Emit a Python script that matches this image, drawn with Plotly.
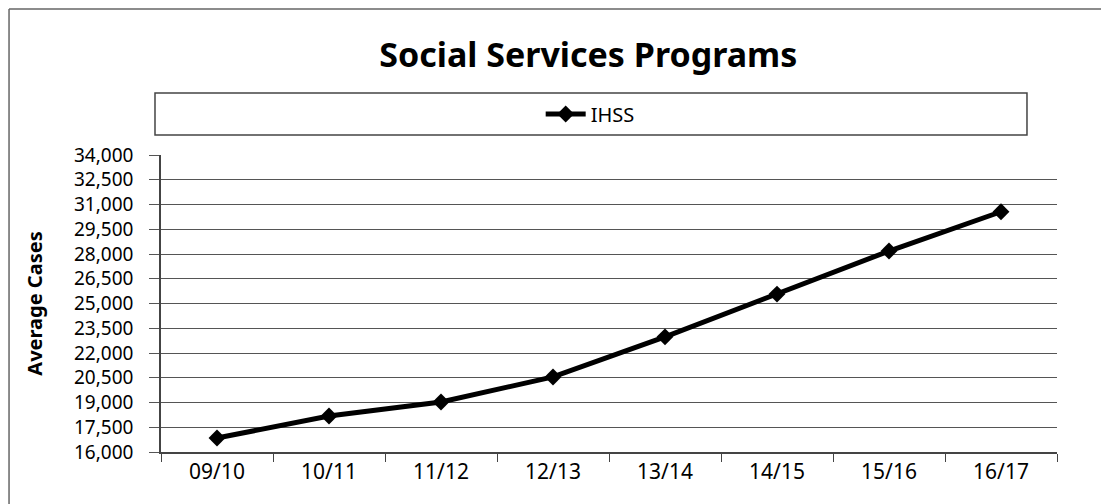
"""
Social Services Programs - IHSS average cases line chart.
"""
import plotly.graph_objects as go

# data
fiscal_years = ['09/10', '10/11', '11/12', '12/13', '13/14', '14/15', '15/16', '16/17']
ihss_cases = [16850, 18180, 19030, 20550, 22980, 25570, 28180, 30560]
y_ticks = list(range(16000, 34001, 1500))
y_tick_labels = [f"{v:,}" for v in y_ticks]

FONT = 'Noto Sans'

fig = go.Figure()

fig.add_trace(go.Scatter(
    x=fiscal_years,
    y=ihss_cases,
    mode='lines+markers',
    name='IHSS',
    line=dict(color='black', width=5),
    marker=dict(symbol='diamond', size=13, color='black')
))

# outer chart border (left and top edges, the rest is cropped in the reference)
fig.add_shape(type='line', xref='paper', yref='paper',
              x0=-0.1696, x1=-0.1696, y0=-0.3, y1=1.4916,
              line=dict(color='#666', width=1.5))
fig.add_shape(type='line', xref='paper', yref='paper',
              x0=-0.1696, x1=1.1, y0=1.4916, y1=1.4916,
              line=dict(color='#666', width=1.5))

# wide legend box like the Excel original
fig.add_shape(type='rect', xref='paper', yref='paper',
              x0=-0.0067, x1=0.9665, y0=1.067, y1=1.209,
              line=dict(color='#444', width=1.5), fillcolor='white', layer='below')

# the page body has an 8px margin, so the figure is sized to the visible area
fig.update_layout(
    width=1101,
    height=496,
    margin=dict(l=153, r=52, t=147, b=52),
    paper_bgcolor='white',
    plot_bgcolor='white',
    font=dict(family=FONT, color='black'),
    title=dict(
        text='<b>Social Services Programs</b>',
        x=0.527, xanchor='center',
        y=0.905, yanchor='middle',
        font=dict(size=34, family=FONT, color='black')
    ),
    showlegend=True,
    legend=dict(
        x=0.479, xanchor='center',
        y=1.138, yanchor='middle',
        bgcolor='rgba(0,0,0,0)',
        font=dict(size=20, family=FONT),
        itemwidth=40
    ),
    xaxis=dict(
        type='category',
        showgrid=False,
        showline=True,
        linecolor='#444',
        linewidth=1.5,
        ticks='outside',
        tickson='boundaries',
        ticklen=8,
        tickcolor='#444',
        tickfont=dict(size=21),
        range=[-0.5, 7.5]
    ),
    yaxis=dict(
        title=dict(text='<b>Average Cases</b>', font=dict(size=20), standoff=26),
        range=[16000, 34000],
        tickvals=y_ticks,
        ticktext=y_tick_labels,
        showgrid=True,
        gridcolor='#555',
        gridwidth=1.2,
        showline=True,
        linecolor='#444',
        linewidth=1.5,
        ticks='outside',
        ticklen=10,
        tickcolor='#555',
        ticklabelstandoff=12,
        tickfont=dict(size=19),
        zeroline=False
    )
)

fig.write_html("out.html")
